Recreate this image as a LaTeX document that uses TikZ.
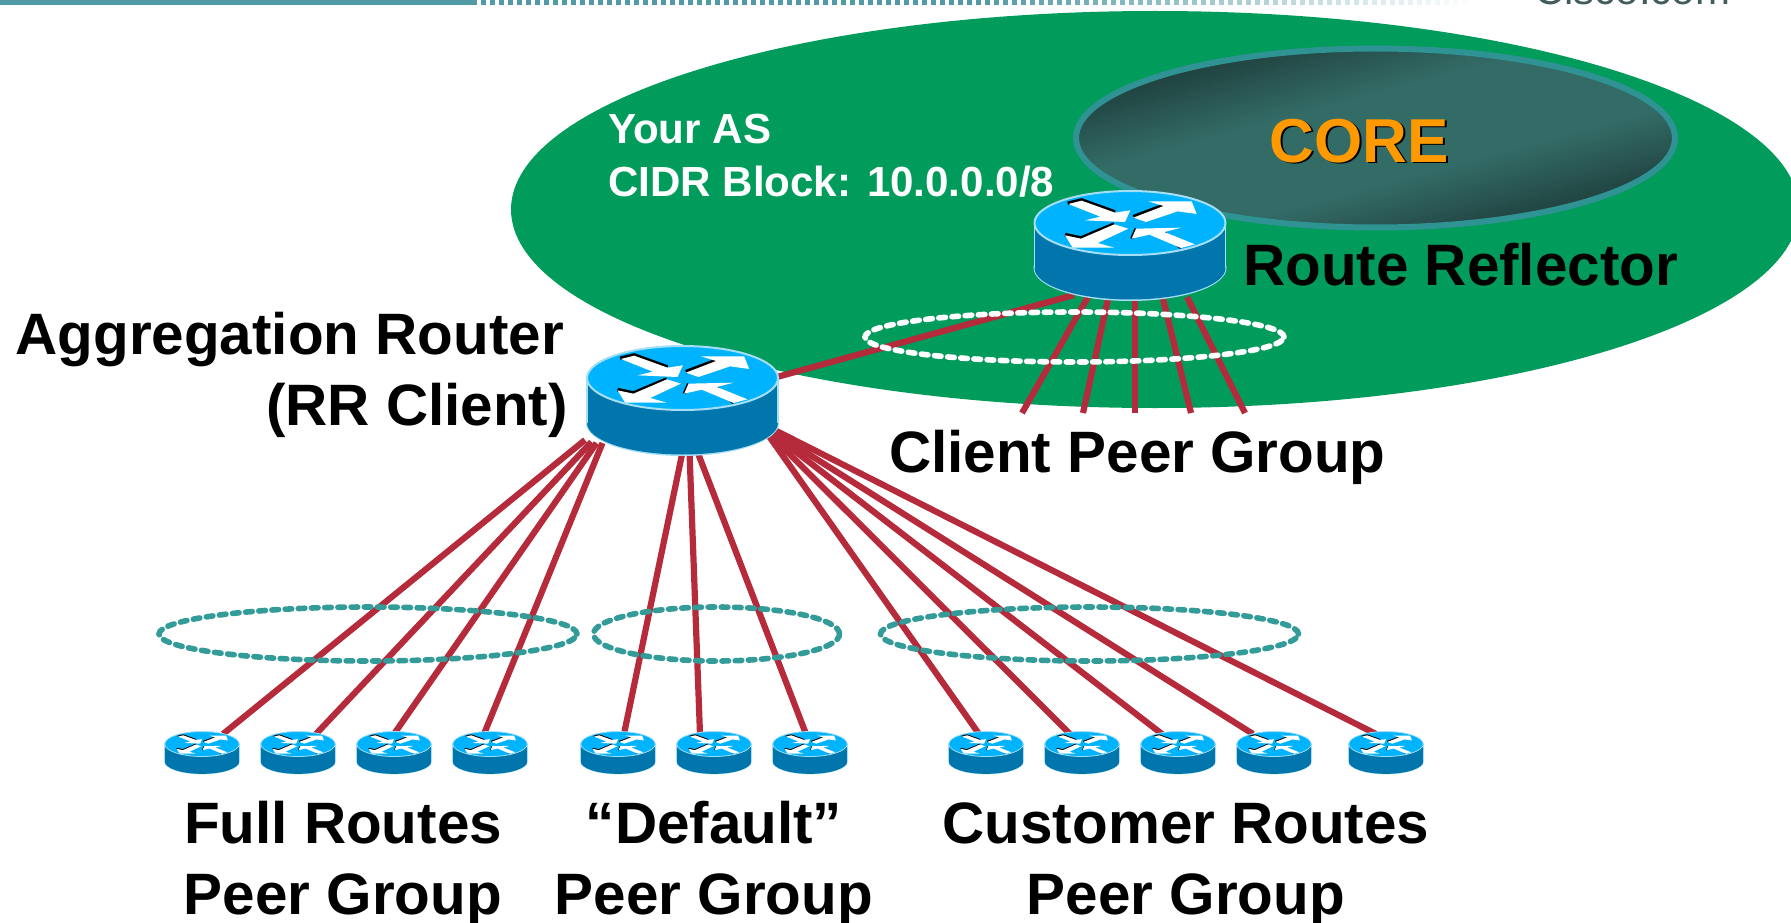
\documentclass[tikz,border=0pt]{standalone}
\usepackage{fontspec}
\setmainfont{Liberation Sans}
\usetikzlibrary{shapes.geometric,calc}
\definecolor{asgreen}{HTML}{019B5B}
\definecolor{coredark}{HTML}{1F403F}
\definecolor{coremid}{HTML}{336B66}
\definecolor{coreedge}{HTML}{2F9393}
\definecolor{linkred}{HTML}{B52B3B}
\definecolor{groupteal}{HTML}{339C98}
\definecolor{bartea}{HTML}{5199A5}
\definecolor{rside}{HTML}{0076AD}
\definecolor{rtop}{HTML}{00B3FF}
\definecolor{redge}{HTML}{A5DEF5}
\definecolor{coreorange}{HTML}{FF9900}
\tikzset{
  link/.style={draw=linkred,line width=6.2pt},
  groupring/.style={ellipse,draw=groupteal,line width=5.6pt,line cap=round,dash pattern=on 6.6pt off 6.6pt,inner sep=0pt},
  clientring/.style={groupring,draw=white},
  biglabel/.style={font=\bfseries\fontsize{58.4}{70}\selectfont,text=black,inner sep=0pt},
  smalllabel/.style={font=\bfseries\fontsize{42.1}{50}\selectfont,text=white,inner sep=0pt,anchor=base west},
  arrowshape/.style={fill=white,draw=none},
}
% \routerfig{x}{y}{scale}
\newcommand{\routerfig}[3]{%
  \begin{scope}[shift={(#1,#2)},scale=#3]
    \fill[redge] (0,45) ellipse[x radius=96.5pt,y radius=33pt];
    \fill[rside] (0,45) ellipse[x radius=95.5pt,y radius=31.5pt];
    \fill[rside] (-95.5,0) rectangle (95.5,45);
    \draw[redge,line width=1.6pt*#3] (-95.5,0) -- (-95.5,45) (95.5,0) -- (95.5,45);
    \draw[redge,fill=rtop,line width=2pt*#3] (0,0) ellipse[x radius=95.5pt,y radius=32pt];
    \begin{scope}[scale=1/3,shift={(-367,-143)}]
      \draw[black,line width=3.6pt*#3] (180,84) -- (222,74) -- (322,110);
      \draw[black,line width=3.6pt*#3] (377,124) -- (468,90);
      \draw[black,line width=3.6pt*#3] (172,178) -- (220,188) -- (320,146);
      \draw[black,line width=3pt*#3] (372,190) -- (385,160);
      \draw[black,line width=3pt*#3] (470,172) -- (520,218);
      \fill[arrowshape] (182,86) -- (222,76) -- (322,112) -- (368,105) -- (352,140) -- (232,135) -- (278,124) -- cycle;
      \fill[arrowshape] (377,127) -- (468,92) -- (422,78) -- (552,78) -- (567,116) -- (510,108) -- (415,140) -- cycle;
      \fill[arrowshape] (320,147) -- (362,160) -- (270,203) -- (320,217) -- (195,217) -- (172,180) -- (220,190) -- cycle;
      \fill[arrowshape] (372,190) -- (385,160) -- (520,157) -- (470,170) -- (562,207) -- (520,218) -- (425,178) -- cycle;
    \end{scope}
  \end{scope}%
}
\begin{document}
\begin{tikzpicture}[x=1pt,y=-1pt]
  \clip (0,0) rectangle (1791,923);
  % top bar
  \fill[bartea] (0,0) rectangle (472,5);
  \foreach \tx in {472,481,...,1470}{
    \pgfmathsetmacro{\op}{min(1,(1475-\tx)/500)}
    \fill[bartea,opacity=\op] (\tx,0) rectangle (\tx+4.5,5);
  }
  \node[anchor=base west,inner sep=0pt,text=coredark!85!white,font=\fontsize{42}{50}\selectfont] (site) at (1534,5) {Cisco.com};

  % named positions
  \coordinate (agg) at (682.5,378);
  \coordinate (rr) at (1130,223);
  \foreach \n/\px in {s1/202,s2/298,s3/394,s4/490,d1/618,d2/714,d3/810,c1/986,c2/1082,c3/1178,c4/1274,c5/1386}{
    \coordinate (\n) at (\px,744);
  }
  \coordinate (m1) at (1022,413);
  \coordinate (m2) at (1083,413);
  \coordinate (m3) at (1135,413);
  \coordinate (m4) at (1191,413);
  \coordinate (m5) at (1245,413);

  % AS and core
  \node[ellipse,fill=asgreen,inner sep=0pt,minimum width=1288pt,minimum height=397pt] (as) at (1155,209.5) {};
  \begin{scope}[shift={(1375.5,138)}]
    \clip (0,0) ellipse[x radius=300pt,y radius=90pt];
    \foreach \t in {-124,-120,...,124}{
      \pgfmathsetmacro{\f}{100*min(1,(120-abs(\t))/75)}
      \fill[coremid!\f!coredark] ({\t*.26+386},{\t*.965-104}) -- ({\t*.26-386},{\t*.965+104}) -- ({(\t+5)*.26-386},{(\t+5)*.965+104}) -- ({(\t+5)*.26+386},{(\t+5)*.965-104}) -- cycle;
    }
  \end{scope}
  \node[ellipse,draw=coreedge,line width=6pt,inner sep=0pt,minimum width=599pt,minimum height=179pt] (core) at (1375.5,138) {};
  \node[anchor=base,inner sep=0pt,font=\bfseries\fontsize{62}{70}\selectfont,text=black] (coreshadow) at (1361,164) {CORE};
  \node[anchor=base,inner sep=0pt,font=\bfseries\fontsize{62}{70}\selectfont,text=coreorange] (corelabel) at (1359,162) {CORE};
  \node[smalllabel] (l1) at (608,143) {Your AS};
  \node[smalllabel] (l2) at (608,196) {CIDR Block: 10.0.0.0/8};

  % connectors
  \draw[link] ([shift={(-97.5,62)}]agg) -- ([shift={(21,-10)}]s1);
  \draw[link] ([shift={(-91,64)}]agg) -- ([shift={(18,-10)}]s2);
  \draw[link] ([shift={(-86,65)}]agg) -- ([shift={(0,-10)}]s3);
  \draw[link] ([shift={(-80,65)}]agg) -- ([shift={(-6,-10)}]s4);
  \draw[link] ([shift={(0,74)}]agg) -- ([shift={(6,-10)}]d1);
  \draw[link] ([shift={(7,74)}]agg) -- ([shift={(-14,-10)}]d2);
  \draw[link] ([shift={(15,74)}]agg) -- ([shift={(-4,-10)}]d3);
  \draw[link] ([shift={(85,56)}]agg) -- ([shift={(-7,-10)}]c1);
  \draw[link] ([shift={(87,56)}]agg) -- ([shift={(-12,-10)}]c2);
  \draw[link] ([shift={(89,55)}]agg) -- ([shift={(-16,-10)}]c3);
  \draw[link] ([shift={(91,54)}]agg) -- ([shift={(-21,-10)}]c4);
  \draw[link] ([shift={(94,53)}]agg) -- ([shift={(-10,-10)}]c5);
  \draw[link] ([shift={(94.5,-1)}]agg) -- ([shift={(-56,72)}]rr);
  \draw[link] ([shift={(-42,74)}]rr) -- (m1);
  \draw[link] ([shift={(-22,76)}]rr) -- (m2);
  \draw[link] ([shift={(5,76)}]rr) -- (m3);
  \draw[link] ([shift={(33,76)}]rr) -- (m4);
  \draw[link] ([shift={(57,74)}]rr) -- (m5);

  % peer-group rings
  \node[groupring,minimum width=418pt,minimum height=54pt] (gfull) at (368,634) {};
  \node[groupring,minimum width=246pt,minimum height=54pt] (gdef) at (716.5,634) {};
  \node[groupring,minimum width=418pt,minimum height=54pt] (gcust) at (1089.5,634) {};
  \node[clientring,minimum width=419pt,minimum height=50pt] (gclient) at (1074.5,337) {};

  % routers
  \routerfig{682.5}{378}{1}
  \routerfig{1130}{223}{1}
  \foreach \px in {202,298,394,490,618,714,810,986,1082,1178,1274,1386}{
    \routerfig{\px}{744}{0.39}
  }

  % labels
  \node[biglabel,anchor=base east] (t1) at (564,354) {Aggregation Router};
  \node[biglabel,anchor=base east] (t2) at (568,425) {(RR Client)};
  \node[biglabel,anchor=base west] (t3) at (1243,285) {Route Reflector};
  \node[biglabel,anchor=base west] (t4) at (889,472) {Client Peer Group};
  \node[biglabel,anchor=base] (t5) at (343,843) {Full Routes};
  \node[biglabel,anchor=base] (t6) at (343,914) {Peer Group};
  \node[biglabel,anchor=base] (t7) at (714,843) {“Default”};
  \node[biglabel,anchor=base] (t8) at (714,914) {Peer Group};
  \node[biglabel,anchor=base] (t9) at (1186,843) {Customer Routes};
  \node[biglabel,anchor=base] (t10) at (1186,914) {Peer Group};
\end{tikzpicture}
\end{document}
